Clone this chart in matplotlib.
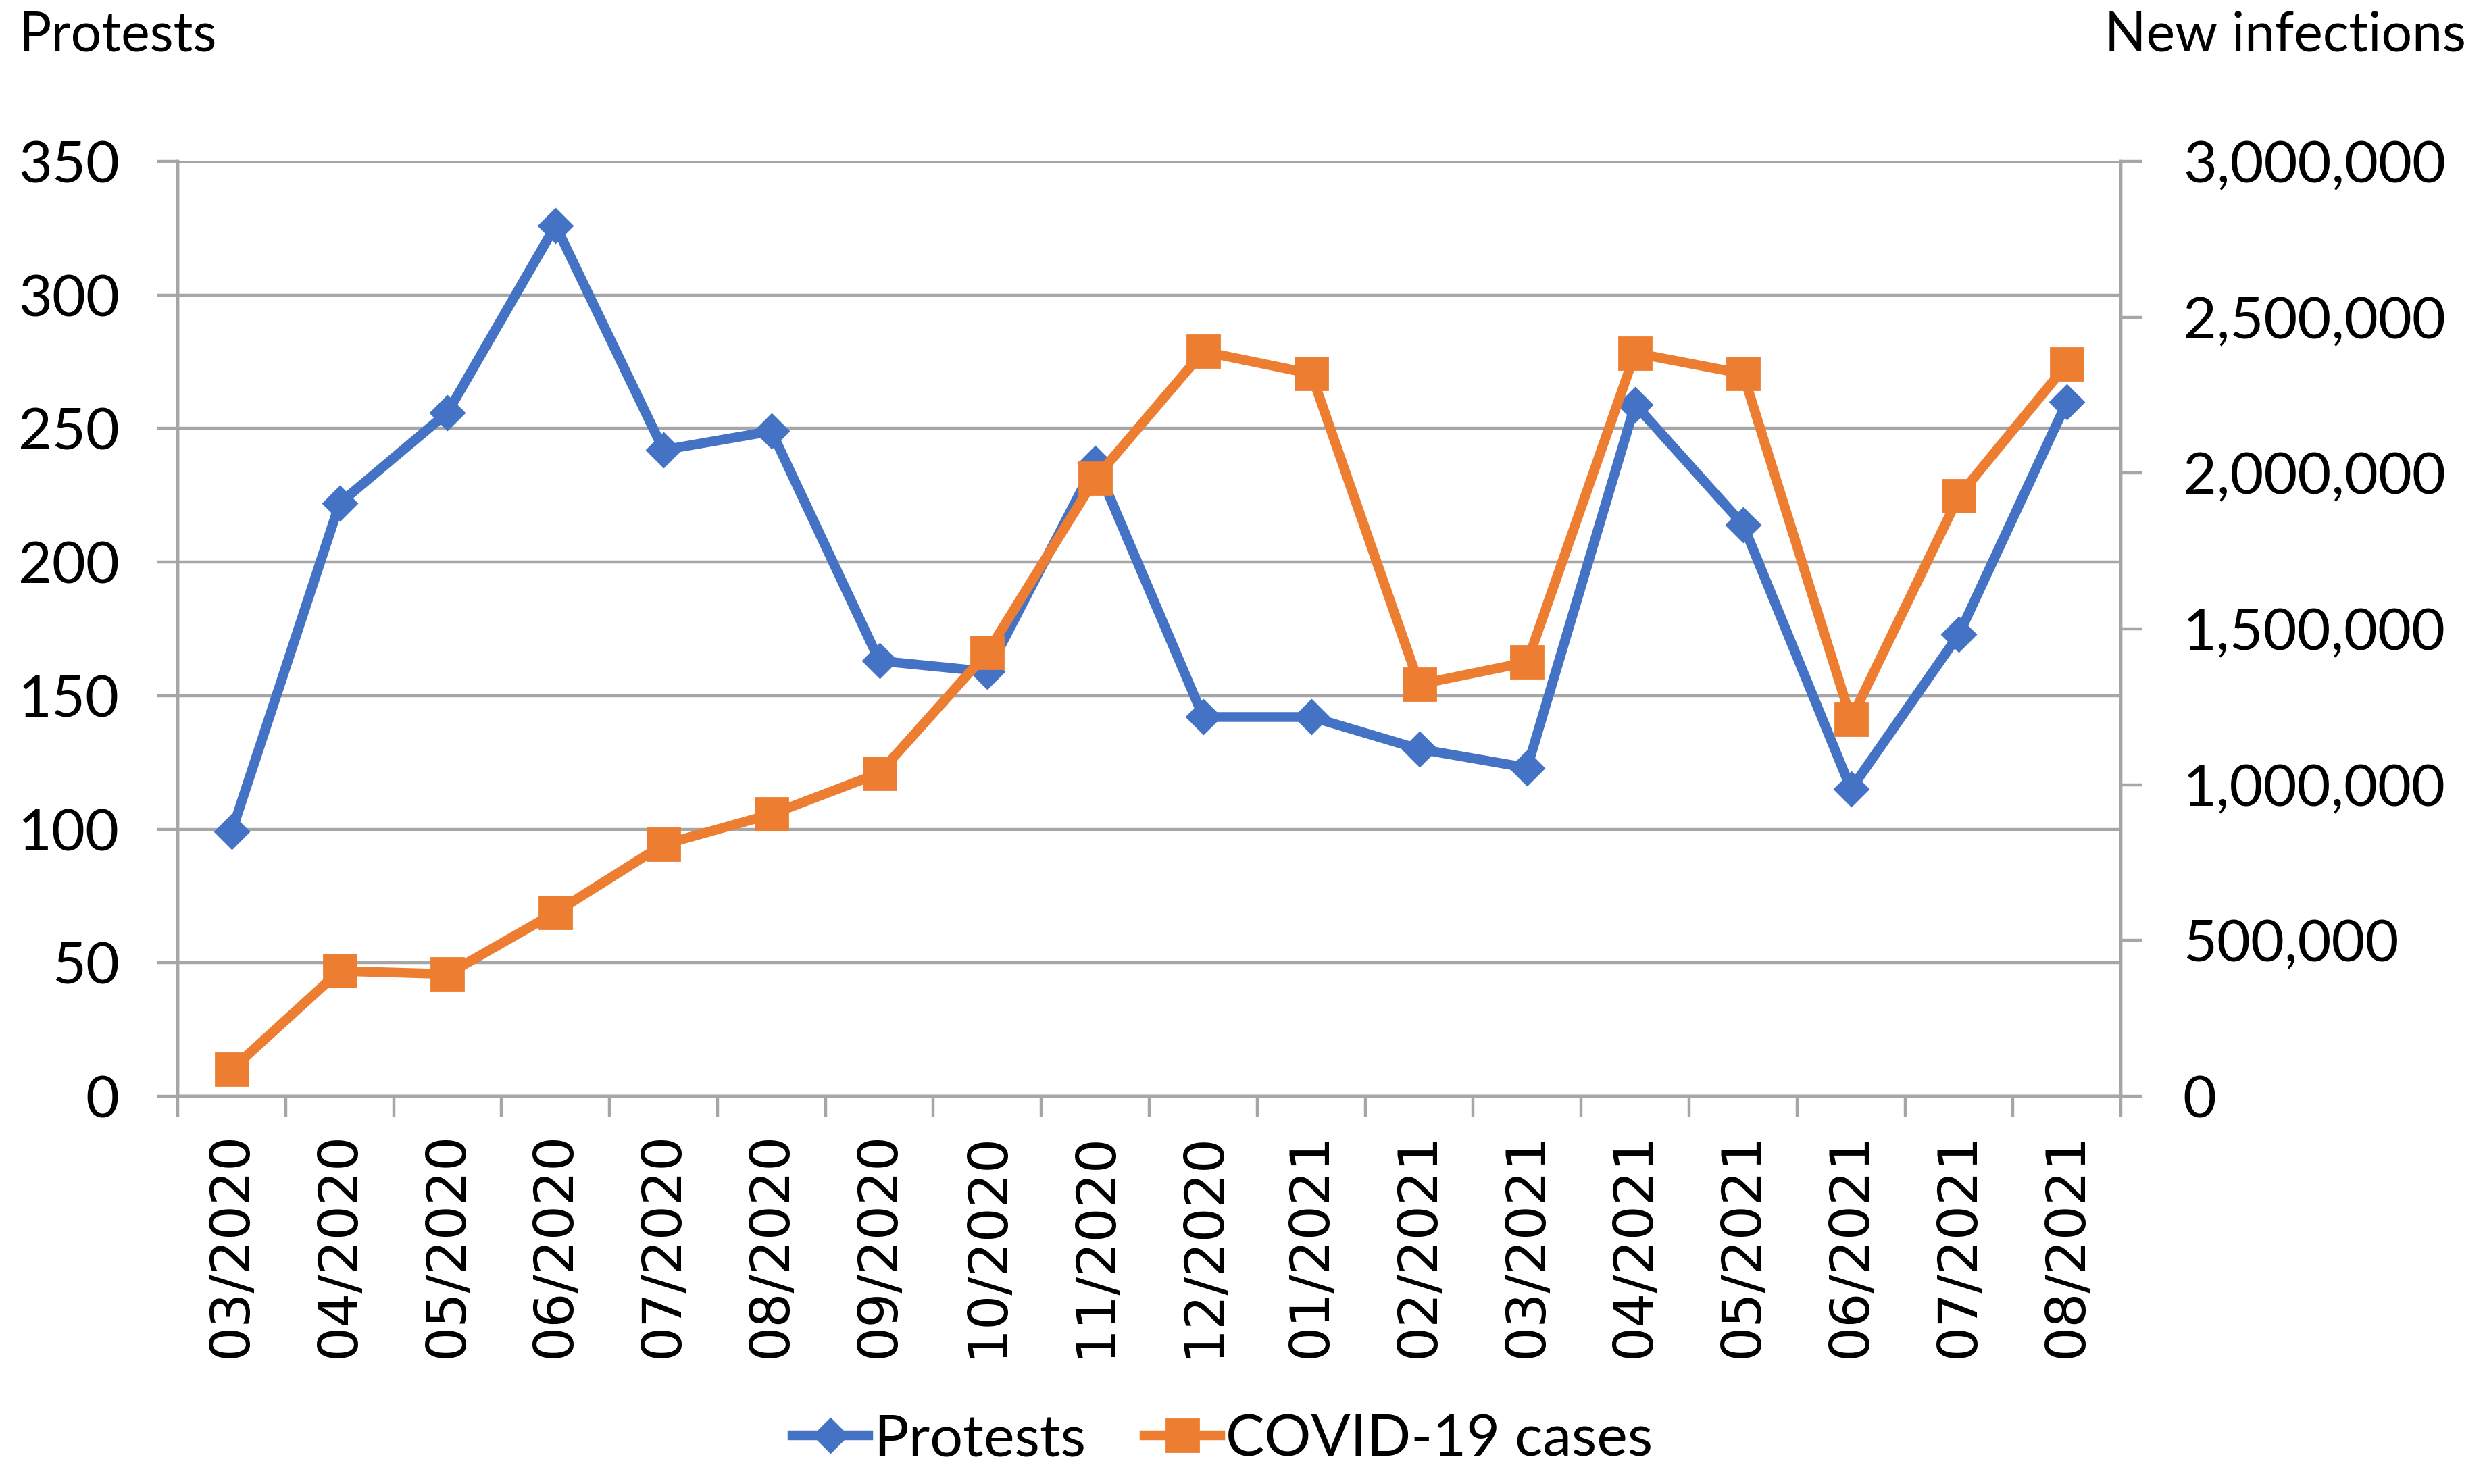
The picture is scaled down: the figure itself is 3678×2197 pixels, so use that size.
import matplotlib
matplotlib.use("Agg")
import matplotlib.pyplot as plt
from matplotlib.ticker import FuncFormatter, MultipleLocator, FixedLocator
import numpy as np

months = ["03/2020", "04/2020", "05/2020", "06/2020", "07/2020", "08/2020",
          "09/2020", "10/2020", "11/2020", "12/2020", "01/2021", "02/2021",
          "03/2021", "04/2021", "05/2021", "06/2021", "07/2021", "08/2021"]
protests = [99, 222, 256, 326, 242, 249, 163, 159, 237, 142, 142, 130,
            123, 259, 214, 115, 173, 260]
covid_cases = [86000, 402000, 392000, 590000, 808000, 905000, 1037000, 1424000,
               1983000, 2390000, 2319000, 1322000, 1393000, 2385000, 2319000,
               1210000, 1927000, 2349000]

BLUE = "#4472C4"
ORANGE = "#ED7D31"
GRID = "#A6A6A6"
TICKFONT = "Lato"

fig = plt.figure(figsize=(3678 / 200, 2197 / 200), dpi=200)
ax = fig.add_axes([0.0715, 0.2613, 0.8535 - 0.0715, 0.8912 - 0.2613])
ax2 = ax.twinx()

x = np.arange(len(months))
ax.plot(x, protests, color=BLUE, lw=5.2, marker="D", ms=12.5, zorder=3,
        label="Protests")
ax2.plot(x, covid_cases, color=ORANGE, lw=5.2, marker="s", ms=17, zorder=3,
         label="COVID-19 cases")

ax.set_xlim(-0.5, len(months) - 0.5)
ax.set_ylim(0, 350)
ax2.set_ylim(0, 3000000)

ax.yaxis.set_major_locator(MultipleLocator(50))
ax2.yaxis.set_major_locator(MultipleLocator(500000))
ax2.yaxis.set_major_formatter(FuncFormatter(lambda v, p: f"{int(v):,}"))

ax.grid(axis="y", color=GRID, lw=1.6)
ax.set_axisbelow(True)

for a in (ax, ax2):
    for s in a.spines.values():
        s.set_color(GRID)
        s.set_linewidth(1.6)
    a.spines["top"].set_visible(False)

ax.set_xticks(x)
ax.set_xticklabels(months, rotation=90, fontsize=29, family="DejaVu Sans")
ax.xaxis.set_minor_locator(FixedLocator(np.arange(-0.5, len(months), 1.0)))
ax.tick_params(axis="x", which="major", length=0, pad=19)
ax.tick_params(axis="x", which="minor", length=11, width=1.6, color=GRID)

ax.tick_params(axis="y", length=11, width=1.6, color=GRID, pad=20, labelsize=31)
ax2.tick_params(axis="y", length=11, width=1.6, color=GRID, pad=22, labelsize=31)
for lab in ax.get_yticklabels() + ax2.get_yticklabels():
    lab.set_family(TICKFONT)

fig.text(28 / 3678, 1 - 52 / 2197, "Protests", fontsize=29, family=TICKFONT,
         ha="left", va="center")
fig.text(3650 / 3678, 1 - 52 / 2197, "New infections", fontsize=29,
         family=TICKFONT, ha="right", va="center")

h1, l1 = ax.get_legend_handles_labels()
h2, l2 = ax2.get_legend_handles_labels()
fig.legend(h1 + h2, l1 + l2, loc="center", bbox_to_anchor=(0.492, 0.03),
           ncol=2, frameon=False, prop={"family": TICKFONT, "size": 31},
           handlelength=1.3, handletextpad=0.1, columnspacing=1.0)

fig.savefig("out.png", dpi=200, facecolor="white")
